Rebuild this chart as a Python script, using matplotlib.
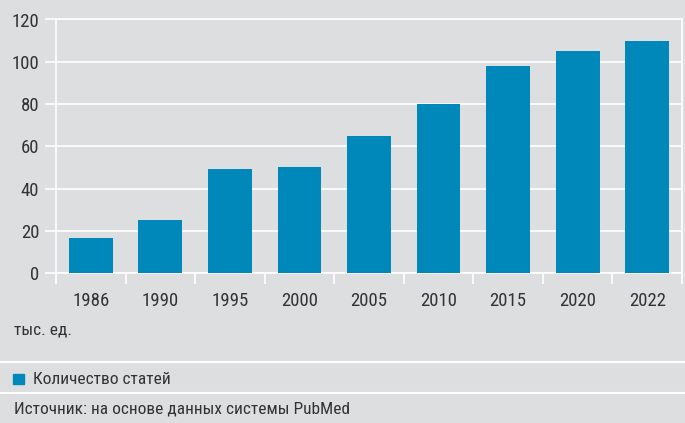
import matplotlib
matplotlib.use("Agg")
import matplotlib.pyplot as plt
from matplotlib.patches import Rectangle
from matplotlib.lines import Line2D
import numpy as np

years = ["1986", "1990", "1995", "2000", "2005", "2010", "2015", "2020", "2022"]
articles = [16.5, 25, 49, 50, 65, 80, 98, 105, 110]
y_ticks = [0, 20, 40, 60, 80, 100, 120]

bg = "#dcdee0"
bar_color = "#0088bb"
txt = "#333333"
plt.rcParams['font.family'] = ['Roboto Condensed', 'PT Sans Narrow', 'DejaVu Sans']

fig = plt.figure(figsize=(6.85, 4.23), dpi=100)
fig.patch.set_facecolor(bg)
ax = fig.add_axes([56/685, 1 - 273/423, 626/685, (273 - 19.5)/423])
ax.set_facecolor(bg)

x = np.arange(len(years))
ax.bar(x, articles, width=0.63, color=bar_color, zorder=3)

ax.set_xlim(-0.5, len(years) - 0.5)
ax.set_ylim(0, 120)
ax.set_yticks(y_ticks)
ax.set_yticklabels([str(v) for v in y_ticks], fontsize=13.5, color=txt)
ax.grid(axis="y", color="white", linewidth=1.2, zorder=1)

# boundaries as major ticks, labels on minor ticks
ax.set_xticks(np.arange(-0.5, len(years), 1.0))
ax.set_xticklabels([])
ax.set_xticks(x, minor=True)
ax.set_xticklabels(years, minor=True, fontsize=13.5, color=txt)
ax.tick_params(axis="x", which="major", length=8, width=1.2, color="white")
ax.tick_params(axis="x", which="minor", length=0, pad=14)
ax.tick_params(axis="y", length=8, width=1.2, color="white", pad=4)

for s in ["left", "right", "top", "bottom"]:
    ax.spines[s].set_color("white")
    ax.spines[s].set_linewidth(1.2)
ax.spines["left"].set_bounds(0, 120)
ax.spines["right"].set_bounds(0, 120)

fig.text(14/685, 1 - 330/423, "тыс. ед.", fontsize=12.5, color=txt, va="center")

for yy in [362, 393]:
    fig.add_artist(Line2D([0, 1], [1 - yy/423, 1 - yy/423], color="white", linewidth=1.5,
                          transform=fig.transFigure))

fig.add_artist(Rectangle((13/685, 1 - 384/423), 11/685, 10/423, color=bar_color,
                         transform=fig.transFigure))
fig.text(33/685, 1 - 379.5/423, "Количество статей", fontsize=12.5, color=txt, va="center")
fig.text(14/685, 1 - 409/423, "Источник: на основе данных системы PubMed", fontsize=12.5,
         color=txt, va="center")

fig.savefig("out.png", dpi=100, facecolor=bg)
